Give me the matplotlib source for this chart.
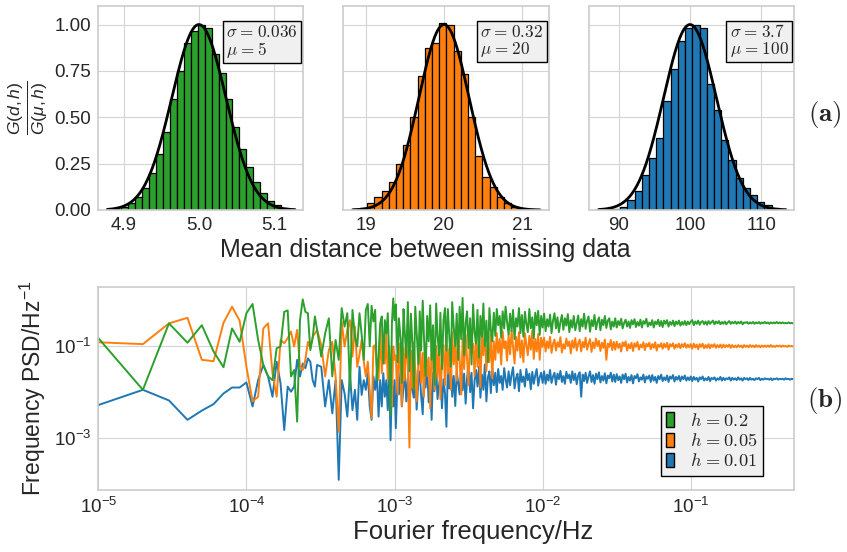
import matplotlib
matplotlib.use("Agg")
import matplotlib.pyplot as plt
import matplotlib.patches as mpatches
from matplotlib.font_manager import FontProperties
import numpy as np

# ---- top row: histograms of mean distance between missing data ----
hist_ranges = [(4.878, 5.128), (18.834, 21.226), (87.17, 113.48)]
hist_xlims = [(4.866, 5.139), (18.714, 21.341), (85.86, 114.65)]
hist_mu = [5.0, 20.0, 100.0]
hist_sigma = [0.036, 0.32, 3.7]
hist_text = [r"$\sigma\hspace{0.08}=\hspace{0.08}0.036$" + "\n" + r"$\mu\hspace{0.08}=\hspace{0.08}5$",
             r"$\sigma\hspace{0.08}=\hspace{0.08}0.32$" + "\n" + r"$\mu\hspace{0.08}=\hspace{0.08}20$",
             r"$\sigma\hspace{0.08}=\hspace{0.08}3.7$" + "\n" + r"$\mu\hspace{0.08}=\hspace{0.08}100$"]
hist_ticks = [[4.9, 5.0, 5.1], [19, 20, 21], [90, 100, 110]]
hist_ticklabels = [["4.9", "5.0", "5.1"], ["19", "20", "21"], ["90", "100", "110"]]
heights_h02 = [0.004, 0.008, 0.018, 0.036, 0.07, 0.12, 0.2, 0.3, 0.42, 0.6,
               0.75, 0.9, 0.965, 1.0, 0.98, 0.84, 0.74, 0.6, 0.45, 0.33,
               0.23, 0.15, 0.09, 0.05, 0.025, 0.01, 0.003]
heights_h005 = [0.003, 0.01, 0.036, 0.07, 0.1, 0.15, 0.25, 0.35, 0.5, 0.72,
                0.874, 0.9, 1.01, 1.0, 0.86, 0.735, 0.5, 0.29, 0.18, 0.126,
                0.072, 0.036, 0.018, 0.006, 0.002, 0.001]
heights_h001 = [0.001, 0.003, 0.007, 0.018, 0.054, 0.1, 0.19, 0.28, 0.39, 0.59,
                0.76, 0.91, 0.98, 1.0, 0.98, 0.68, 0.54, 0.38, 0.27, 0.17,
                0.12, 0.08, 0.045, 0.027, 0.01, 0.003]
hist_heights = [heights_h02, heights_h005, heights_h001]

# ---- bottom: frequency PSD, frequency index k -> f = k * 1e-5 Hz ----
freq_step = 1e-5
freq_index = (
    list(range(1, 31))
    + list(range(32, 101, 2))
    + [102, 105, 107, 110, 112, 115, 117, 120, 123, 126,
       129, 132, 135, 138, 141, 145, 148, 151, 155, 158,
       162, 166, 170, 174, 178, 182, 186, 191, 195, 200,
       204, 209, 214, 219, 224, 229, 234, 240, 245, 251,
       257, 263, 269, 275, 282, 288, 295, 302, 309, 316,
       324, 331, 339, 347, 355, 363, 372, 380, 389, 398,
       407, 417, 427, 437, 447, 457, 468, 479, 490, 501,
       513, 525, 537, 550, 562, 575, 589, 603, 617, 631,
       646, 661, 676, 692, 708, 724, 741, 759, 776, 794,
       813, 832, 851, 871, 891, 912, 933, 955, 977, 1000,
       1023, 1047, 1072, 1096, 1122, 1148, 1175, 1202, 1230, 1259,
       1288, 1318, 1349, 1380, 1413, 1445, 1479, 1514, 1549, 1585,
       1622, 1660, 1698, 1738, 1778, 1820, 1862, 1905, 1950, 1995,
       2042, 2089, 2138, 2188, 2239, 2291, 2344, 2399, 2455, 2512,
       2570, 2630, 2692, 2754, 2818, 2884, 2951, 3020, 3090, 3162,
       3236, 3311, 3388, 3467, 3548, 3631, 3715, 3802, 3890, 3981,
       4074, 4169, 4266, 4365, 4467, 4571, 4677, 4786, 4898, 5012,
       5129, 5248, 5370, 5495, 5623, 5754, 5888, 6026, 6166, 6310,
       6457, 6607, 6761, 6918, 7079, 7244, 7413, 7586, 7762, 7943,
       8128, 8318, 8511, 8710, 8913, 9120, 9333, 9550, 9772, 10000,
       10233, 10471, 10715, 10965, 11220, 11482, 11749, 12023, 12303, 12589,
       12882, 13183, 13490, 13804, 14125, 14454, 14791, 15136, 15488, 15849,
       16218, 16596, 16982, 17378, 17783, 18197, 18621, 19055, 19498, 19953,
       20417, 20893, 21380, 21878, 22387, 22909, 23442, 23988, 24547, 25119,
       25704, 26303, 26915, 27542, 28184, 28840, 29512, 30200, 30903, 31623,
       32359, 33113, 33884, 34674, 35481, 36308, 37154, 38019, 38905, 39811,
       40738, 41687, 42658, 43652, 44668, 45709, 46774, 47863, 48978, 50000]
)

# log10 of PSD
log_psd_h001 = [
    -2.28, -1.95, -2.18, -2.60, -2.40, -2.26, -2.03, -1.90, -1.90, -1.79,
    -2.31, -1.74, -1.41, -1.66, -2.10, -1.34, -1.81, -2.82, -1.88, -1.99,
    -1.88, -1.30, -1.66, -1.38, -1.48, -1.27, -1.34, -1.74, -1.88, -1.41,
    -1.45, -2.31, -1.74, -2.46, -1.74, -3.90, -1.74, -2.03, -2.53, -1.59,
    -2.39, -1.95, -2.60, -1.45, -2.06, -1.74, -1.95, -1.59, -2.31, -2.60,
    -1.66, -1.95, -1.59, -2.53, -1.74, -2.31, -1.59, -2.10, -1.74, -2.39,
    -1.52, -3.04, -1.74, -2.31, -1.74,
    -2.78, -1.62, -2.05, -1.50, -2.31, -1.88, -1.47, -2.20, -1.70, -2.45,
    -1.58, -1.95, -2.12, -1.52, -2.38, -1.74, -1.55, -2.05, -2.48, -1.66,
    -1.90, -1.48, -2.22, -1.80, -2.60, -1.57, -1.98, -1.45, -2.15, -1.85,
    -1.60, -2.35, -1.72, -2.02,
    -2.75, -1.50, -1.92, -1.38, -2.10, -1.65, -2.30, -1.55, -1.80, -2.05,
    -1.42, -1.96, -1.60, -2.25, -1.70, -1.36, -2.00, -1.58, -2.35, -1.75,
    -1.52, -1.88, -1.45, -2.12, -1.62, -1.95, -1.40, -2.20, -1.68, -1.55,
    -2.02, -1.48, -1.85,
    -1.58, -2.00, -1.50, -1.80, -1.65, -1.95, -1.48, -1.72, -1.90, -1.55,
    -1.85, -1.62, -1.46, -1.92, -1.70, -1.60, -1.98, -1.52, -1.78, -1.66,
    -1.88, -1.50, -1.74, -1.60, -1.94, -1.56, -1.82, -1.64, -1.50, -1.86,
    -1.68, -1.58, -1.80,
    -1.55, -1.82, -1.62, -1.75, -1.52, -1.80, -1.66, -1.58, -1.84, -1.60,
    -1.72, -1.54, -1.78, -1.65, -1.82, -1.56, -1.70, -1.62, -1.80, -1.55,
    -1.74, -1.60, -1.83, -1.64, -1.57, -2.10, -1.62, -1.76, -1.58, -1.80,
    -1.66, -1.55, -1.78, -1.63, -1.82, -1.60, -1.72, -1.57, -1.79, -1.65,
    -1.75, -1.59, -1.81, -1.64, -1.70, -1.58, -1.77, -1.62,
    -1.78, -1.61, -1.74, -1.66, -1.80, -1.62, -1.72, -1.60, -1.79, -1.67,
    -1.75, -1.63, -1.81, -1.65, -1.70, -1.61, -1.77, -1.68, -1.73, -1.62,
    -1.79, -1.66, -1.71, -1.64, -1.78, -1.63, -1.75, -1.67, -1.80, -1.65,
    -1.72, -1.62, -1.76, -1.68, -1.74, -1.64, -1.78, -1.66, -1.71, -1.63,
    -1.77, -1.67, -1.73, -1.65, -1.76, -1.66, -1.72, -1.64, -1.75, -1.68,
    -1.74, -1.66,
    -1.76, -1.67, -1.73, -1.69, -1.77, -1.68, -1.72, -1.66, -1.75, -1.70,
    -1.74, -1.67, -1.76, -1.69, -1.72, -1.68, -1.75, -1.70, -1.73, -1.67,
    -1.75, -1.69, -1.74, -1.70, -1.72, -1.68, -1.75, -1.69, -1.73, -1.70,
    -1.74, -1.68, -1.73, -1.70, -1.75, -1.69, -1.72, -1.70, -1.74, -1.69,
    -1.73, -1.71, -1.74, -1.70, -1.72, -1.69, -1.74, -1.71, -1.73, -1.70,
    -1.72, -1.71, -1.73, -1.70, -1.74, -1.71, -1.72, -1.70, -1.73, -1.71,
    -1.72, -1.71, -1.73, -1.70, -1.72, -1.71, -1.73, -1.71, -1.72, -1.71,
]
log_psd_h005 = [
    -0.92, -0.96, -0.51, -0.39, -1.30, -1.33, -0.50, -0.15, -0.45, -1.45,
    -2.20, -2.10, -0.62, -0.51, -1.59, -2.10, -0.87, -0.94, -0.83, -0.69,
    -1.01, -0.65, -1.45, -1.52, -1.30, -0.91, -1.05, -0.80, -0.73, -0.65,
    -0.98, -1.66, -1.09, -0.91, -1.66, -2.86, -0.47, -1.01, -0.65, -0.44,
    -1.23, -0.58, -1.45, -1.19, -0.87, -1.34, -1.66, -1.34, -1.95, -2.57,
    -1.01, -0.98, -1.45, -1.74, -0.65, -1.59, -1.01, -1.38, -0.73, -1.74,
    -1.01, -1.38, -2.31, -1.01, -1.30,
    -1.20, -2.05, -0.95, -1.60, -2.30, -1.05, -1.75, -0.88, -1.45, -3.20,
    -1.10, -1.90, -0.92, -1.55, -2.20, -1.30, -0.90, -1.80, -1.15, -2.10,
    -0.95, -1.65, -1.25, -2.35, -0.87, -1.50, -1.95, -1.00, -1.70, -0.93,
    -2.15, -1.35, -0.98, -1.85,
    -0.80, -1.60, -1.05, -1.95, -0.70, -1.40, -0.90, -1.75, -0.66, -1.25,
    -2.05, -0.85, -1.50, -0.75, -1.30, -1.85, -0.68, -1.15, -0.95, -1.65,
    -0.72, -1.45, -0.88, -1.90, -0.78, -1.20, -0.65, -1.55, -1.00, -1.35,
    -0.74, -1.70, -0.90,
    -1.30, -0.72, -1.15, -0.85, -1.40, -0.68, -1.05, -0.90, -1.32, -0.75,
    -1.18, -0.66, -1.00, -1.38, -0.80, -1.10, -0.70, -1.25, -0.88, -1.35,
    -0.72, -0.98, -1.20, -0.78, -1.08, -0.67, -1.28, -0.85, -1.12, -0.74,
    -1.30, -0.82, -1.02,
    -0.82, -1.12, -0.90, -1.05, -0.80, -1.15, -0.95, -0.86, -1.10, -0.92,
    -1.02, -0.81, -1.14, -0.96, -1.06, -0.84, -1.00, -0.90, -1.16, -0.88,
    -1.04, -0.83, -1.10, -0.94, -0.86, -1.12, -0.91, -1.03, -0.82, -1.08,
    -0.95, -0.85, -1.13, -0.92, -1.05, -0.84, -1.00, -0.89, -1.11, -0.93,
    -1.04, -0.86, -1.30, -0.95, -1.02, -0.87, -1.09, -0.91,
    -1.08, -0.91, -1.04, -0.95, -1.12, -0.92, -1.00, -0.90, -1.10, -0.96,
    -1.05, -0.93, -1.11, -0.94, -1.02, -0.91, -1.08, -0.97, -1.03, -0.92,
    -1.09, -0.95, -1.01, -0.93, -1.07, -0.96, -1.04, -0.92, -1.10, -0.97,
    -1.02, -0.94, -1.06, -0.95, -1.03, -0.93, -1.08, -0.96, -1.01, -0.94,
    -1.06, -0.97, -1.03, -0.95, -1.05, -0.96, -1.02, -0.94, -1.04, -0.97,
    -1.03, -0.96,
    -1.06, -0.95, -1.03, -0.97, -1.07, -0.96, -1.02, -0.95, -1.05, -0.98,
    -1.04, -0.96, -1.05, -0.97, -1.02, -0.96, -1.04, -0.98, -1.03, -0.97,
    -1.04, -0.97, -1.03, -0.98, -1.02, -0.97, -1.04, -0.98, -1.03, -0.99,
    -1.03, -0.98, -1.02, -0.99, -1.04, -0.98, -1.02, -0.99, -1.03, -0.98,
    -1.02, -0.99, -1.03, -0.98, -1.02, -0.99, -1.03, -0.99, -1.02, -0.99,
    -1.02, -0.99, -1.02, -0.98, -1.02, -1.00, -1.02, -0.99, -1.01, -0.99,
    -1.02, -0.99, -1.01, -1.00, -1.02, -0.99, -1.01, -1.00, -1.01, -1.00,
]
log_psd_h02 = [
    -0.83, -1.95, -0.51, -0.93, -0.55, -1.12, -1.46, -0.62, -0.91, -0.29,
    -0.09, -0.87, -1.41, -1.66, -1.74, -1.05, -1.01, -0.26, -0.23, -1.66,
    -1.52, -2.64, -0.44, 0.01, -0.26, -0.29, -1.09, -0.83, -0.36, -0.65,
    -1.23, -0.73, -0.40, -1.66, -0.87, -1.30, -0.18, -0.58, -0.29, -1.95,
    -0.22, -0.80, -1.01, -0.29, -0.76, -1.30, -0.22, -0.09, -1.01, -0.13,
    -0.47, -0.22, -1.74, -1.23, -0.51, -0.36, -1.38, -0.44, -0.73, -0.29,
    -1.23, -2.49, -0.51, 0.03, -0.44,
    -0.10, -1.35, -0.40, -0.85, -1.80, -0.20, -0.65, -1.25, -0.05, -1.55,
    -0.30, -0.95, -1.95, -0.15, -0.70, -1.40, -0.25, -1.10, -0.02, -0.80,
    -1.65, -0.35, -0.90, -0.12, -1.30, -0.55, -1.85, -0.08, -0.75, -1.20,
    -0.28, -1.50, -0.45, -0.18,
    -1.10, -0.20, -0.75, -1.45, -0.05, -0.60, -1.00, -0.30, -1.30, -0.15,
    -0.85, 0.04, -1.20, -0.50, -0.25, -1.05, -0.40, -1.40, -0.10, -0.70,
    -0.95, -0.22, -1.25, -0.35, -0.80, -0.08, -1.00, -0.45, -1.35, -0.18,
    -0.65, -0.90, -0.28,
    -0.78, -0.20, -0.55, -0.35, -0.82, -0.25, -0.62, -0.15, -0.48, -0.75,
    -0.30, -0.68, -0.22, -0.85, -0.40, -0.58, -0.18, -0.72, -0.33, -0.80,
    -0.26, -0.52, -0.70, -0.20, -0.62, -0.38, -0.83, -0.28, -0.55, -0.24,
    -0.76, -0.35, -0.60,
    -0.30, -0.68, -0.42, -0.58, -0.32, -0.72, -0.45, -0.29, -0.62, -0.38,
    -0.70, -0.48, -0.33, -0.65, -0.40, -0.56, -0.31, -0.70, -0.44, -0.60,
    -0.35, -0.66, -0.50, -0.34, -0.68, -0.42, -0.58, -0.30, -0.63, -0.46,
    -0.36, -0.69, -0.44, -0.57, -0.33, -0.64, -0.48, -0.38, -0.66, -0.43,
    -0.55, -0.35, -0.61, -0.45, -0.40, -0.64, -0.47, -0.58,
    -0.40, -0.60, -0.46, -0.55, -0.41, -0.62, -0.50, -0.43, -0.58, -0.47,
    -0.61, -0.44, -0.53, -0.42, -0.59, -0.48, -0.56, -0.43, -0.60, -0.46,
    -0.52, -0.41, -0.58, -0.49, -0.55, -0.44, -0.60, -0.47, -0.53, -0.43,
    -0.57, -0.46, -0.59, -0.45, -0.52, -0.44, -0.58, -0.48, -0.54, -0.45,
    -0.57, -0.47, -0.53, -0.45, -0.56, -0.48, -0.54, -0.46, -0.55, -0.47,
    -0.53, -0.47,
    -0.44, -0.55, -0.47, -0.52, -0.45, -0.54, -0.48, -0.46, -0.53, -0.47,
    -0.54, -0.46, -0.52, -0.48, -0.45, -0.53, -0.47, -0.51, -0.46, -0.53,
    -0.48, -0.52, -0.47, -0.53, -0.49, -0.46, -0.52, -0.48, -0.51, -0.47,
    -0.52, -0.48, -0.51, -0.47, -0.53, -0.49, -0.50, -0.48, -0.52, -0.49,
    -0.51, -0.48, -0.52, -0.49, -0.51, -0.48, -0.52, -0.49, -0.51, -0.48,
    -0.51, -0.49, -0.52, -0.49, -0.51, -0.49, -0.51, -0.48, -0.51, -0.49,
    -0.51, -0.49, -0.51, -0.50, -0.51, -0.49, -0.51, -0.50, -0.51, -0.50,
]
series_labels = [r"$h\hspace{0.08}=\hspace{0.08}0.2$",
                 r"$h\hspace{0.08}=\hspace{0.08}0.05$",
                 r"$h\hspace{0.08}=\hspace{0.08}0.01$"]

GREEN = "#2ca02c"
ORANGE = "#ff7f0e"
BLUE = "#1f77b4"
hist_colors = [GREEN, ORANGE, BLUE]

plt.style.use("seaborn-v0_8-whitegrid")
plt.rcParams.update({
    "font.family": ["Liberation Sans", "DejaVu Sans"],
    "mathtext.fontset": "custom",
    "mathtext.rm": "Liberation Sans",
    "mathtext.it": "Liberation Sans:italic",
    "mathtext.bf": "Liberation Sans:bold",
    "xtick.labelsize": 13.5,
    "ytick.labelsize": 13.5,
    "axes.edgecolor": "#cccccc",
    "grid.color": "#d4d4d4",
    "axes.linewidth": 1.2,
})

W, H = 847, 552
fig = plt.figure(figsize=(W / 100, H / 100), dpi=100)


def px_axes(left, top, right, bottom):
    return fig.add_axes([left / W, 1 - bottom / H, (right - left) / W, (bottom - top) / H])


top_boxes = [(98.3, 6, 303.3, 210), (343.3, 6, 549, 210), (589.3, 6, 794.3, 210)]
box_font = FontProperties(family="DejaVu Serif", size=12.3, math_fontfamily="cm")
legend_font = FontProperties(family="DejaVu Serif", size=13.2, math_fontfamily="cm")

for i, box in enumerate(top_boxes):
    ax = px_axes(*box)
    lo, hi = hist_ranges[i]
    heights = hist_heights[i]
    edges = np.linspace(lo, hi, len(heights) + 1)
    ax.bar(edges[:-1], heights, width=np.diff(edges), align="edge",
           color=hist_colors[i], edgecolor="black", linewidth=0.9)
    xs = np.linspace(lo, hi, 400)
    ax.plot(xs, np.exp(-(xs - hist_mu[i]) ** 2 / (2 * hist_sigma[i] ** 2)),
            color="black", linewidth=2)
    ax.set_xlim(*hist_xlims[i])
    ax.set_ylim(0, 1.1)
    ax.set_xticks(hist_ticks[i])
    ax.set_xticklabels(hist_ticklabels[i])
    ax.set_yticks([0, 0.25, 0.5, 0.75, 1.0])
    if i == 0:
        ax.set_yticklabels(["0.00", "0.25", "0.50", "0.75", "1.00"])
        ax.set_ylabel(r"$\frac{G(d,h)}{G(\mu,h)}$", fontsize=18, labelpad=3)
    else:
        ax.set_yticklabels([])
    ax.tick_params(length=0, pad=5)
    ax.text(0.972, 0.914, hist_text[i], transform=ax.transAxes, ha="right", va="top",
            multialignment="left", fontproperties=box_font, linespacing=0.95,
            bbox=dict(boxstyle="square,pad=0.2", facecolor="#f0f0f0",
                      edgecolor="black", linewidth=1.0))

fig.text(425 / W, 1 - 250 / H, "Mean distance between missing data",
         ha="center", va="center", fontsize=18)
fig.text(825 / W, 1 - 114 / H, r"$\mathbf{(a)}$", ha="center", va="center",
         fontsize=19.5, math_fontfamily="cm")

# ---- bottom panel ----
ax4 = px_axes(98.3, 286.7, 794.3, 490)
freq = np.array(freq_index) * freq_step
ax4.plot(freq, 10 ** np.array(log_psd_h001), color=BLUE, linewidth=1.4)
ax4.plot(freq, 10 ** np.array(log_psd_h005), color=ORANGE, linewidth=1.4)
ax4.plot(freq, 10 ** np.array(log_psd_h02), color=GREEN, linewidth=1.4)
ax4.set_xscale("log")
ax4.set_yscale("log")
ax4.set_xlim(1e-5, 0.5)
ax4.set_ylim(10 ** -4.12, 10 ** 0.284)
ax4.set_xticks([1e-5, 1e-4, 1e-3, 1e-2, 1e-1])
ax4.set_yticks([1e-3, 1e-1])
ax4.minorticks_off()
ax4.tick_params(length=0, pad=5)
ax4.set_ylabel(r"Frequency PSD/Hz$^{-1}$", fontsize=16.5, labelpad=4)
fig.text(473 / W, 1 - 532 / H, "Fourier frequency/Hz", ha="center", va="center",
         fontsize=18.5)

handles = [mpatches.Patch(facecolor=c, edgecolor="black", linewidth=1.0)
           for c in (GREEN, ORANGE, BLUE)]
leg = ax4.legend(handles, series_labels, loc="lower right", bbox_to_anchor=(0.955, 0.07),
                 borderaxespad=0, prop=legend_font, frameon=True, fancybox=False,
                 framealpha=1, facecolor="#f0f0f0", edgecolor="black",
                 handlelength=0.4, handleheight=0.8, handletextpad=0.9,
                 labelspacing=0.12, borderpad=0.3)
leg.get_frame().set_linewidth(1.0)

fig.text(825 / W, 1 - 400 / H, r"$\mathbf{(b)}$", ha="center", va="center",
         fontsize=19.5, math_fontfamily="cm")

fig.savefig("out.png", dpi=100)
